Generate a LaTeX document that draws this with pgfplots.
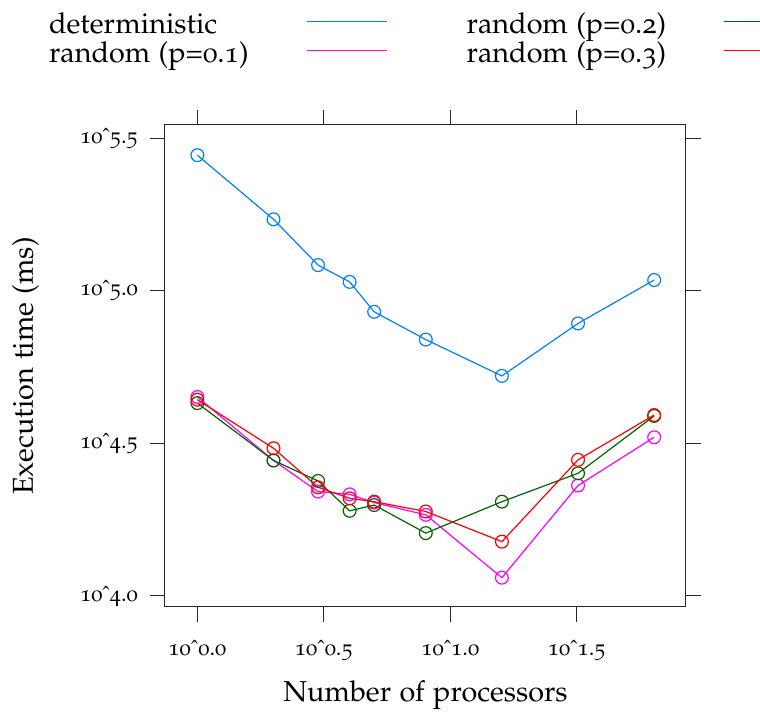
\documentclass[border=0pt]{standalone}
\usepackage[T1]{fontenc}
\usepackage[osf]{mathpazo}
\usepackage{pgfplots}
\pgfplotsset{compat=1.18}
\definecolor{detblue}{HTML}{0080FF}
\definecolor{pmag}{HTML}{FF00FF}
\definecolor{pgreen}{HTML}{006400}
\definecolor{pred}{HTML}{FF0000}
\begin{document}
\begin{tikzpicture}
\useasboundingbox (-82.5pt,-56.5pt) rectangle (297.5pt,303.5pt);
\begin{axis}[
  scale only axis, width=260.5pt, height=241pt,
  xmode=log, ymode=log,
  xmin=0.7447, xmax=85.5, ymin=9204, ymax=349140,
  xtick={1,3.16228,10,31.6228},
  xticklabels={10\^{}0.0,10\^{}0.5,10\^{}1.0,10\^{}1.5},
  ytick={10000,31622.8,100000,316228},
  yticklabels={10\^{}4.0,10\^{}4.5,10\^{}5.0,10\^{}5.5},
  minor tick num=0,
  tick align=outside, major tick length=7.5pt,
  tick style={black!85, line width=0.5pt},
  axis line style={black!85, line width=0.5pt},
  ticklabel style={font=\fontsize{11.2}{13}\selectfont},
  xticklabel style={yshift=-5.5pt},
  yticklabel style={xshift=-2.5pt},
  xlabel={Number of processors}, ylabel={Execution time (ms)},
  label style={font=\fontsize{14.4}{17}\selectfont},
  xlabel style={at={(axis description cs:0.5,-0.1971)}, anchor=base},
  ylabel style={at={(axis description cs:-0.2534,0.5)}, anchor=base, rotate=0},
  legend columns=2, legend plot pos=right,
  legend style={at={(axis description cs:-0.2226,1.233)}, anchor=north west,
    draw=none, fill=none, inner sep=0pt, outer sep=0pt,
    font=\fontsize{14.4}{17}\selectfont,
    column sep=0pt, row sep=0pt,
    nodes={inner sep=0pt, text height=10.5pt, text depth=4.15pt},
    cells={anchor=base west}},
  legend image code/.code={\path[draw=none,fill=none] (0pt,0pt) -- (109pt,0pt); \draw[#1] (29pt,6.2pt) -- (69pt,6.2pt);},
  every axis plot/.append style={line width=0.6pt, mark=o, mark size=3.2pt, mark options={solid}},
]
\addplot[detblue, forget plot] coordinates {
(1,278000) (2,171400) (3,121340) (4,106900) (5,85310) (8,69180) (16,52600) (32,78160) (64,108400)};
\addplot[pmag, forget plot] coordinates {
(1,44870) (2,27800) (3,21980) (4,21530) (5,20230) (8,18450) (16,11480) (32,23010) (64,33110)};
\addplot[pgreen, forget plot] coordinates {
(1,42850) (2,27800) (3,23820) (4,19010) (5,19860) (8,16070) (16,20370) (32,25230) (64,38900)};
\addplot[pred, forget plot] coordinates {
(1,43950) (2,30480) (3,22700) (4,20890) (5,20370) (8,18920) (16,15070) (32,27930) (64,39170)};
\addlegendimage{draw=detblue, line width=0.7pt}
\addlegendentry{deterministic}
\addlegendimage{draw=pgreen, line width=0.7pt}
\addlegendentry{random (p=0.2)}
\addlegendimage{draw=pmag, line width=0.7pt}
\addlegendentry{random (p=0.1)}
\addlegendimage{draw=pred, line width=0.7pt}
\addlegendentry{random (p=0.3)}
\end{axis}
\end{tikzpicture}
\end{document}
